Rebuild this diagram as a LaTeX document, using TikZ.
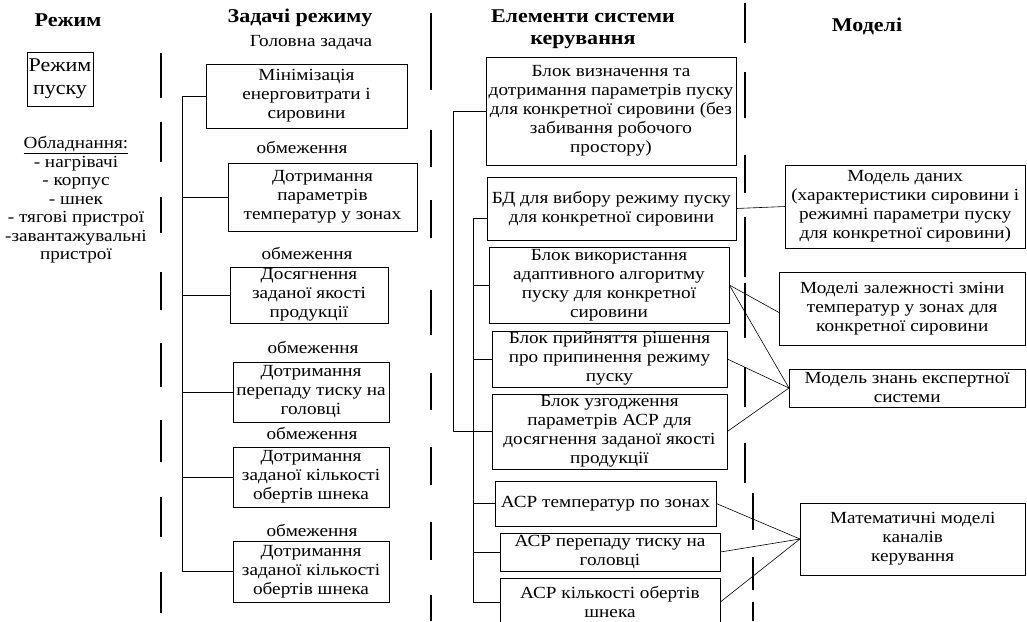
\documentclass[tikz,border=0pt]{standalone}
\usepackage{fontspec}
\setmainfont[FakeStretch=1.13]{Liberation Serif}
\usetikzlibrary{calc}
\newcommand\bodyfont{\fontsize{17}{19}\selectfont}
\newcommand\headfont{\fontsize{19.5}{22}\selectfont\bfseries}
\tikzset{
  box/.style={draw, line width=0.6pt, align=center, inner sep=0pt, font=\bodyfont},
  txt/.style={align=center, inner sep=0pt, font=\bodyfont},
  head/.style={align=center, inner sep=0pt, font=\headfont},
  divider/.style={line width=1.4pt},
  conn/.style={line width=0.6pt}
}
\begin{document}
\begin{tikzpicture}[x=1pt,y=-1pt]
\useasboundingbox[fill=white] (0,0) rectangle (1027,621);

% headers
\node[head] (h1) at (68,20) {Режим};
\node[head] (h2) at (300,18) {Задачі режиму};
\node[head] (h3) at (583,29) {Елементи системи\\керування};
\node[head] (h4) at (867,26) {Моделі};

% column 1
\node[draw, line width=0.6pt, align=center, inner sep=0pt, minimum width=66, minimum height=54, font=\fontsize{19.5}{23}\selectfont] (R) at (60,79) {Режим\\пуску};
\node[txt, font=\fontsize{17}{18.5}\selectfont] (eq) at (76,200) {\underline{Обладнання:}\\- нагрівачі\\- корпус\\- шнек\\- тягові пристрої\\-завантажувальні\\пристрої};

% column 2
\node[txt] (main) at (311,43) {Головна задача};
\node[box, minimum width=201, minimum height=64] (T1) at (306.5,96) {Мінімізація\\енерговитрати і\\сировини};
\node[txt] (o1) at (302,147) {обмеження};
\node[box, minimum width=189, minimum height=68] (T2) at (322.5,197) {Дотримання\\параметрів\\температур у зонах};
\node[txt] (o2) at (307,253) {обмеження};
\node[box, minimum width=158, minimum height=56] (T3) at (309,295) {Досягнення\\заданої якості\\продукції};
\node[txt] (o3) at (313,347) {обмеження};
\node[box, minimum width=156, minimum height=60] (T4) at (311,392) {Дотримання\\перепаду тиску на\\головці};
\node[txt] (o4) at (312,433) {обмеження};
\node[box, minimum width=156, minimum height=60] (T5) at (311,477) {Дотримання\\заданої кількості\\обертів шнека};
\node[txt] (o5) at (312,530) {обмеження};
\node[box, minimum width=156, minimum height=61] (T6) at (311,571.5) {Дотримання\\заданої кількості\\обертів шнека};

\coordinate (tr) at (182,0);
\draw[conn] (T1.west) -- (T1.west -| tr) -- (T6.west -| tr) -- (T6.west);
\foreach \n in {T2,T3,T4,T5} \draw[conn] (\n.west) -- (\n.west -| tr);

% column 3
\node[box, minimum width=250, minimum height=108] (A) at (611,111) {Блок визначення та\\дотримання параметрів пуску\\для конкретної сировини (без\\забивання робочого\\простору)};
\node[box, minimum width=249, minimum height=63] (B) at (611.5,208.5) {БД для вибору режиму пуску\\для конкретної сировини};
\node[box, minimum width=240, minimum height=76] (C) at (609,285) {Блок використання\\адаптивного алгоритму\\пуску для конкретної\\сировини};
\node[box, minimum width=235, minimum height=56] (D) at (609.5,359) {Блок прийняття рішення\\про припинення режиму\\пуску};
\node[box, minimum width=235, minimum height=75] (E) at (609.5,431.5) {Блок узгодження\\параметрів АСР для\\досягнення заданої якості\\продукції};
\node[box, minimum width=221, minimum height=45] (F) at (605.5,503.5) {АСР температур по зонах};
\node[box, minimum width=220, minimum height=38] (G) at (610,552) {АСР перепаду тиску на\\головці};
\node[box, minimum width=220, minimum height=48] (H) at (610,602) {АСР кількості обертів\\шнека};

\coordinate (ot) at (453,0);
\coordinate (it) at (473,0);
\coordinate (Bw) at ($(B.west)+(0,9.5)$);
\draw[conn] (A.west) -- (A.west -| ot) -- (E.west -| ot) -- (E.west);
\draw[conn] (Bw) -- (Bw -| it) -- (H.west -| it) -- (H.west);
\foreach \n in {C,D,F,G} \draw[conn] (\n.west) -- (\n.west -| it);

% column 4
\node[box, minimum width=240, minimum height=83] (M1) at (905.25,206.5) {Модель даних\\(характеристики сировини і\\режимні параметри пуску\\для конкретної сировини)};
\node[box, minimum width=246, minimum height=73] (M2) at (902.25,308.5) {Моделі залежності зміни\\температур у зонах для\\конкретної сировини};
\node[box, minimum width=236, minimum height=38] (M3) at (907.25,388) {Модель знань експертної\\системи};
\node[box, minimum width=225, minimum height=72] (M4) at (912.75,539) {Математичні моделі\\каналів\\керування};

\draw[conn] (B.east) -- (M1.west);
\draw[conn] (C.east) -- ($(M2.west)+(0,4)$);
\draw[conn] (C.east) -- (M3.west);
\draw[conn] (D.east) -- (M3.west);
\draw[conn] (E.east) -- (M3.west);
\draw[conn] (F.east) -- (M4.west);
\draw[conn] (G.east) -- (M4.west);
\draw[conn] (H.east) -- (M4.west);

% dividers
\foreach \a/\b in {53/98,122/162,197/233,272/310,343/387,420/462,497/537,572/613}
  \draw[divider] (161,\a) -- (161,\b);
\foreach \a/\b in {13/90,130/167,200/238,290/335,373/410,447/485,522/560,595/621}
  \draw[divider] (431,\a) -- (431,\b);
\foreach \a/\b in {3/43,72/118,155/193,217/277,283/338,367/407,443/483}
  \draw[divider] (745,\a) -- (745,\b);
\foreach \a/\b in {493/530,557/590,602/621}
  \draw[divider] (753,\a) -- (753,\b);
\end{tikzpicture}
\end{document}
